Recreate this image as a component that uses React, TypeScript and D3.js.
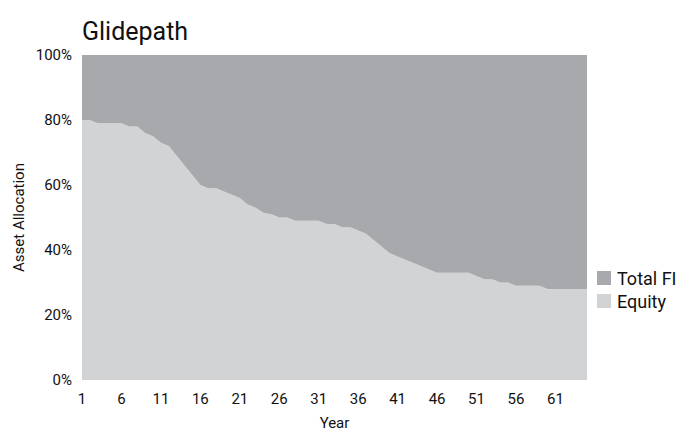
import { useEffect, useRef } from "react";
import * as d3 from "d3";

const years = d3.range(1, 66);
const equity = [
  80, 80, 79, 79, 79, 79, 78, 78, 76, 75, 73, 72, 69, 66, 63, 60, 59, 59, 58, 57,
  56, 54, 53, 51.5, 51, 50, 50, 49, 49, 49, 49, 48, 48, 47, 47, 46, 45, 43, 41, 39,
  38, 37, 36, 35, 34, 33, 33, 33, 33, 33, 32, 31, 31, 30, 30, 29, 29, 29, 29, 28,
  28, 28, 28, 28, 28,
];
const totalFI = equity.map((e) => 100 - e);
const seriesNames = ["Equity", "Total FI"];
const seriesColors = ["#d1d3d4", "#a7a9ac"];
const yTicks = [0, 20, 40, 60, 80, 100];
const xTicks = [1, 6, 11, 16, 21, 26, 31, 36, 41, 46, 51, 56, 61];

const font = "'Roboto', sans-serif";

function App() {
  const svgRef = useRef<SVGSVGElement>(null);

  useEffect(() => {
    if (!svgRef.current) return;
    const svg = d3.select(svgRef.current);
    svg.selectAll("*").remove();

    const width = 684;
    const height = 431;
    const margin = { top: 55, right: 97, bottom: 51, left: 82 };

    svg.attr("width", width).attr("height", height);

    const rows = years.map((y, i) => ({ year: y, equity: equity[i], fi: totalFI[i] }));
    const stack = d3.stack<any>().keys(["equity", "fi"]);
    const layers = stack(rows);

    const x = d3
      .scaleLinear()
      .domain([1, 65])
      .range([margin.left, width - margin.right]);
    const y = d3
      .scaleLinear()
      .domain([0, 100])
      .range([height - margin.bottom, margin.top]);

    const area = d3
      .area<any>()
      .x((d) => x(d.data.year))
      .y0((d) => y(d[0]))
      .y1((d) => y(d[1]));

    svg
      .append("g")
      .selectAll("path")
      .data(layers)
      .enter()
      .append("path")
      .attr("d", area)
      .attr("fill", (_, i) => seriesColors[i]);

    // y axis labels
    svg
      .append("g")
      .selectAll("text")
      .data(yTicks)
      .enter()
      .append("text")
      .attr("x", margin.left - 10)
      .attr("y", (d) => y(d) + 5)
      .attr("text-anchor", "end")
      .style("font-family", font)
      .style("font-size", "15px")
      .attr("fill", "#111")
      .text((d) => `${d}%`);

    // x axis labels
    svg
      .append("g")
      .selectAll("text")
      .data(xTicks)
      .enter()
      .append("text")
      .attr("x", (d) => x(d))
      .attr("y", height - margin.bottom + 24)
      .attr("text-anchor", "middle")
      .style("font-family", font)
      .style("font-size", "15px")
      .attr("fill", "#111")
      .text((d) => d);

    svg
      .append("text")
      .attr("x", (margin.left + width - margin.right) / 2)
      .attr("y", 428)
      .attr("text-anchor", "middle")
      .style("font-family", font)
      .style("font-size", "15px")
      .attr("fill", "#111")
      .text("Year");

    svg
      .append("text")
      .attr("transform", `translate(24,${(margin.top + height - margin.bottom) / 2}) rotate(-90)`)
      .attr("text-anchor", "middle")
      .style("font-family", font)
      .style("font-size", "15px")
      .attr("fill", "#111")
      .text("Asset Allocation");

    svg
      .append("text")
      .attr("x", margin.left)
      .attr("y", 40)
      .style("font-family", font)
      .style("font-size", "25px")
      .attr("fill", "#111")
      .text("Glidepath");

    // legend, Total FI on top
    const legend = svg
      .append("g")
      .selectAll("g")
      .data([1, 0])
      .enter()
      .append("g")
      .attr("transform", (_, i) => `translate(597,${271 + i * 23})`);
    legend
      .append("rect")
      .attr("width", 14)
      .attr("height", 14)
      .attr("fill", (d) => seriesColors[d]);
    legend
      .append("text")
      .attr("x", 20)
      .attr("y", 14)
      .style("font-family", font)
      .style("font-size", "18px")
      .attr("fill", "#111")
      .text((d) => seriesNames[d]);
  }, []);

  return (
    <svg
      ref={svgRef}
      style={{ position: "absolute", left: 0, top: 0, display: "block", background: "#fff" }}
    ></svg>
  );
}

export default App;
